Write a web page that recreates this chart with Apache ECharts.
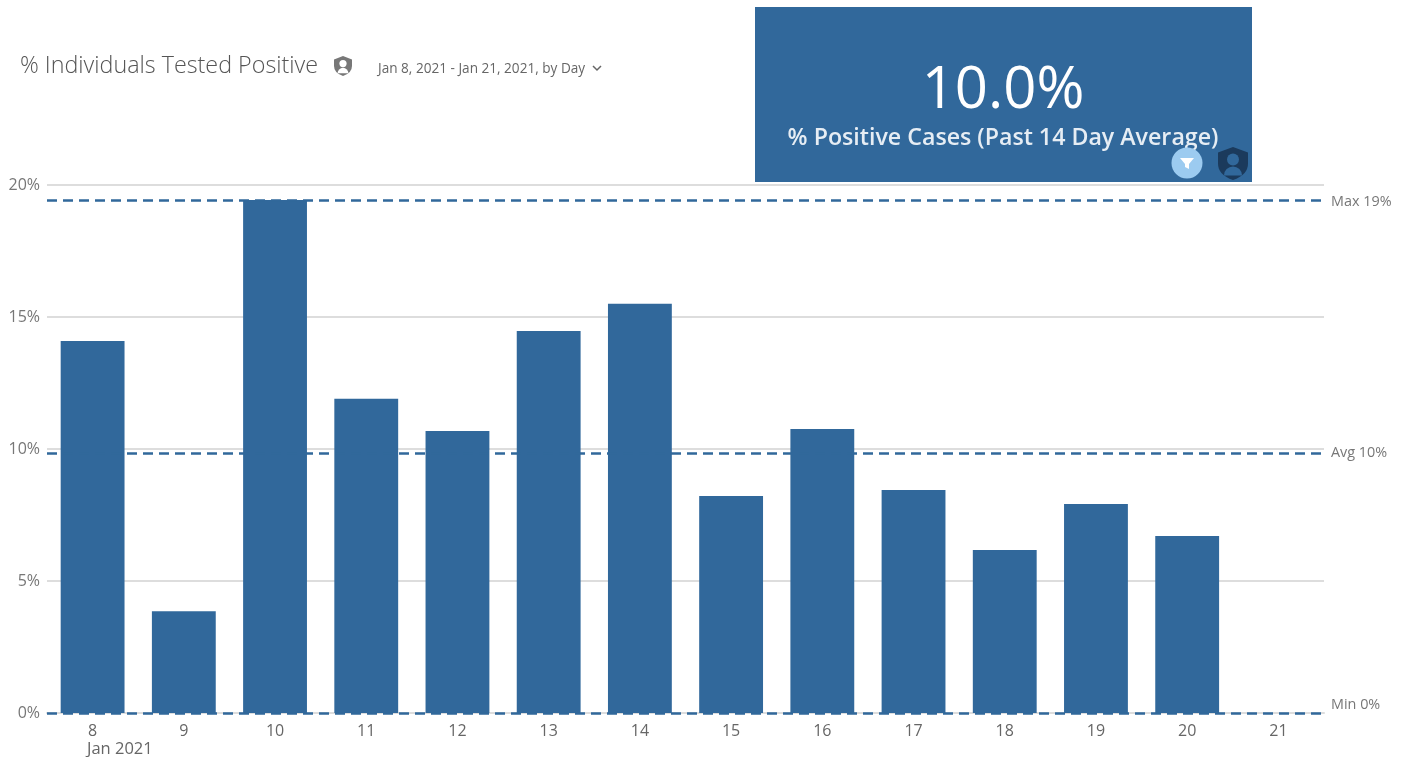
<!DOCTYPE html>
<html>
<head>
<meta charset="utf-8">
<title>% Individuals Tested Positive</title>
<script src="https://cdn.jsdelivr.net/npm/echarts@6/dist/echarts.min.js"></script>
<style>
  html, body { margin: 0; padding: 0; background: #fff; }
  #chart { width: 1408px; height: 757px; }
</style>
</head>
<body>
<div id="chart"></div>
<script>
var days = ['8', '9', '10', '11', '12', '13', '14', '15', '16', '17', '18', '19', '20', '21'];
var positive = [14.09, 3.85, 19.43, 11.9, 10.68, 14.47, 15.5, 8.22, 10.76, 8.45, 6.17, 7.92, 6.7, null];
var refValues = [19.43, 9.85, 0];
var refLabels = ['Max 19%', 'Avg 10%', 'Min 0%'];

var blue = '#31689b';
var font = '"Open Sans", "Noto Sans", sans-serif';

// shield outline for the small badges
echarts.graphic.registerShape('shield', echarts.graphic.extendShape({
    shape: { x: 0, y: 0, w: 0, h: 0 },
    buildPath: function (ctx, s) {
        var x = s.x, y = s.y, w = s.w, h = s.h;
        ctx.moveTo(x + w / 2, y);
        ctx.lineTo(x + w, y + h * 0.17);
        ctx.lineTo(x + w, y + h * 0.5);
        ctx.quadraticCurveTo(x + w, y + h * 0.85, x + w / 2, y + h);
        ctx.quadraticCurveTo(x, y + h * 0.85, x, y + h * 0.5);
        ctx.lineTo(x, y + h * 0.17);
        ctx.closePath();
    }
}));

function badge(x, y, w, h, bg, fg, z) {
    var cx = x + w / 2;
    return [
        { type: 'shield', shape: { x: x, y: y, w: w, h: h }, z: z, style: { fill: bg } },
        { type: 'circle', shape: { cx: cx, cy: y + h * 0.38, r: w * 0.2 }, z: z + 1, style: { fill: fg } },
        { type: 'sector', shape: { cx: cx, cy: y + h * 0.86, r: w * 0.3, r0: 0, startAngle: Math.PI, endAngle: 2 * Math.PI }, z: z + 1, style: { fill: fg } }
    ];
}

var chart = echarts.init(document.getElementById('chart'));

// label nudges: the Max label sits a bit low, the Min label above its line
var labelShifts = [[0, 1.5], [0, 0], [0, -8]];
var refLines = [];
for (var i = 0; i < refValues.length; i++) {
    refLines.push({ yAxis: refValues[i], label: { formatter: refLabels[i], offset: labelShifts[i] } });
}

var option = {
    animation: false,
    textStyle: { fontFamily: font },
    grid: { left: 47, right: 84, top: 185, bottom: 44 },
    xAxis: {
        type: 'category',
        data: days,
        axisTick: { alignWithLabel: true, length: 6, lineStyle: { color: '#ddd', width: 1 } },
        axisLine: { lineStyle: { color: '#ddd', width: 2 } },
        axisLabel: { color: '#666', fontSize: 16, margin: 10, fontFamily: font }
    },
    yAxis: {
        type: 'value',
        min: 0,
        max: 20,
        interval: 5,
        axisLabel: { formatter: '{value}%', color: '#777', fontSize: 16, margin: 7, fontFamily: font },
        axisLine: { show: false },
        axisTick: { show: false },
        splitLine: { lineStyle: { color: '#ddd', width: 2 } }
    },
    series: [
        {
            type: 'line',
            data: [],
            z: 2,
            silent: true,
            markLine: {
                silent: true,
                symbol: 'none',
                lineStyle: { color: blue, type: [10, 6], width: 2.5 },
                label: { position: 'end', distance: 7, color: '#777', fontSize: 14.4, fontFamily: font },
                data: refLines
            }
        },
        {
            type: 'bar',
            data: positive,
            barWidth: '70%',
            z: 3,
            itemStyle: { color: blue }
        }
    ],
    graphic: [
        { type: 'text', x: 20, y: 55, style: { text: '% Individuals Tested Positive', fill: '#555', font: '300 23.3px ' + font } },
        { type: 'text', x: 378, y: 62, style: { text: 'Jan 8, 2021 - Jan 21, 2021, by Day', fill: '#666', font: '13.6px ' + font } },
        { type: 'polyline', shape: { points: [[593, 66], [597, 70], [601, 66]] }, style: { stroke: '#666', lineWidth: 1.5, fill: null } },
        { type: 'text', x: 87, y: 741, style: { text: 'Jan 2021', fill: '#666', font: '16.5px ' + font } },
        { type: 'rect', shape: { x: 755, y: 7, width: 497, height: 175 }, z: 10, style: { fill: blue } },
        { type: 'text', x: 1003, y: 91, z: 11, style: { text: '10.0%', fill: '#fff', font: '58px ' + font, align: 'center', verticalAlign: 'middle' } },
        { type: 'text', x: 1003, y: 138, z: 11, style: { text: '% Positive Cases (Past 14 Day Average)', fill: '#e6edf4', font: '600 23.2px ' + font, align: 'center', verticalAlign: 'middle' } },
        { type: 'circle', shape: { cx: 1187, cy: 163, r: 15.5 }, z: 11, style: { fill: '#9ccbf0' } },
        { type: 'polygon', shape: { points: [[1180, 158], [1194, 158], [1189, 164], [1189, 169], [1185, 167], [1185, 164]] }, z: 12, style: { fill: '#fff' } }
    ].concat(badge(334, 56, 18, 20, '#777', '#fff', 5), badge(1218, 147, 30, 33, '#1b3a5c', blue, 11))
};

chart.setOption(option);
</script>
</body>
</html>
